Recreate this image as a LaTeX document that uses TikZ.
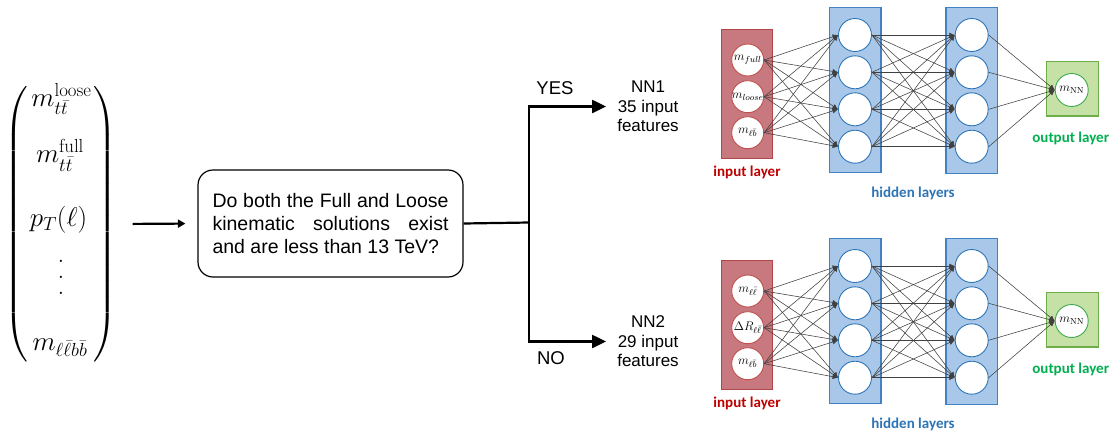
\documentclass[tikz,border=0pt]{standalone}
\usepackage{amsmath}
\usepackage{fontspec}
\newfontfamily\arialfont{Liberation Sans}
\newfontfamily\califont{Carlito}
\usetikzlibrary{arrows.meta}

% scalable math fonts for the large vector
\DeclareFontShape{OML}{cmm}{m}{it}{<-6>cmmi5<6-7>cmmi6<7-8>cmmi7<8-9>cmmi8<9-10>cmmi9<10-12>cmmi10<12->cmmi12}{}
\DeclareFontShape{OMS}{cmsy}{m}{n}{<-6>cmsy5<6-7>cmsy6<7-8>cmsy7<8-9>cmsy8<9-10>cmsy9<10->cmsy10}{}
\DeclareFontShape{OMX}{cmex}{m}{n}{<->cmex10}{}
\DeclareFontShape{OT1}{cmr}{m}{n}{<-6>cmr5<6-7>cmr6<7-8>cmr7<8-9>cmr8<9-10>cmr9<10-12>cmr10<12-17>cmr12<17->cmr17}{}

\definecolor{inFill}{HTML}{C8787F}
\definecolor{inEdge}{HTML}{B0464A}
\definecolor{inRing}{HTML}{C0504D}
\definecolor{hidFill}{HTML}{A9C8E9}
\definecolor{hidEdge}{HTML}{4282C4}
\definecolor{hidRing}{HTML}{2E75B6}
\definecolor{outFill}{HTML}{C6E1A5}
\definecolor{outEdge}{HTML}{6DAE49}
\definecolor{outRing}{HTML}{3BAA4E}
\definecolor{inText}{HTML}{C00000}
\definecolor{hidText}{HTML}{2E75B6}
\definecolor{outText}{HTML}{00B050}

\tikzset{
  vecentry/.style={inner sep=0, font=\fontsize{27}{32}\selectfont},
  paren/.style={inner sep=0, font=\fontsize{27}{32}\selectfont},
  flow/.style={line width=2.2pt, draw=black},
  qbox/.style={draw=black, line width=1.2pt, rounded corners=15pt, inner sep=0,
    font=\arialfont\fontsize{19.5}{23.3}\selectfont},
  flowtext/.style={inner sep=0, align=center, font=\arialfont\fontsize{17}{19.5}\selectfont},
  flowlab/.style={inner sep=0, font=\arialfont\fontsize{18.5}{22}\selectfont},
  layerbox/.style={line width=1.2pt, inner sep=0},
  neuron/.style={circle, fill=white, line width=0.9pt, inner sep=0, minimum size=33pt},
  inneuron/.style={neuron, draw=inRing, minimum size=32pt},
  hidneuron/.style={neuron, draw=hidRing},
  outneuron/.style={neuron, draw=outRing},
  nlabel/.style={label={[inner sep=0, font=\fontsize{12.5}{15}\selectfont]center:$#1$}},
  conn/.style={draw=black!75, line width=0.55pt, -{Latex[length=5.5pt,width=5pt]}},
  laylab/.style={inner sep=0, font=\califont\bfseries\fontsize{15}{18}\selectfont},
}

% One network: name prefix, vertical offset, three input labels
\newcommand\netdiagram[5]{%
\begin{scope}[shift={(0,#2)}]
  \node[layerbox, fill=inFill, draw=inEdge, minimum width=51pt, minimum height=129pt] (#1inbox) at (747.2,93.8) {};
  \node[layerbox, fill=hidFill, draw=hidEdge, minimum width=51.7pt, minimum height=165.4pt] (#1habox) at (855.2,90) {};
  \node[layerbox, fill=hidFill, draw=hidEdge, minimum width=51.7pt, minimum height=166pt] (#1hbbox) at (971.8,90.3) {};
  \node[layerbox, fill=outFill, draw=outEdge, minimum width=51.6pt, minimum height=54.3pt] (#1outbox) at (1072.5,88.8) {};
  \node[inneuron, nlabel={#3}] (#1in1) at (747.7,60) {};
  \node[inneuron, nlabel={#4}] (#1in2) at (747.7,96.7) {};
  \node[inneuron, nlabel={#5}] (#1in3) at (747.7,132.7) {};
  \foreach \j/\yy in {1/35,2/72.3,3/109.3,4/146.7} {
    \node[hidneuron] (#1ha\j) at (855,\yy) {};
    \node[hidneuron] (#1hb\j) at (971.7,\yy) {};
  }
  \node[outneuron, nlabel={m_{\mathrm{NN}}}] (#1out) at (1071.7,90) {};
  \foreach \i in {1,2,3} \foreach \j in {1,...,4} \draw[conn] (#1in\i.east) -- (#1ha\j.west);
  \foreach \i in {1,...,4} \foreach \j in {1,...,4} \draw[conn] (#1ha\i.east) -- (#1hb\j.west);
  \foreach \i in {1,...,4} \draw[conn] (#1hb\i.east) -- (#1out.west);
  \node[laylab, text=inText] (#1inlab) at (747,172) {input layer};
  \node[laylab, text=hidText] (#1hidlab) at (913,193) {hidden layers};
  \node[laylab, text=outText] (#1outlab) at (1070.7,138) {output layer};
\end{scope}}

\begin{document}
\begin{tikzpicture}[x=1pt, y=-1pt]
  \useasboundingbox[fill=white] (0,0) rectangle (1110,437);

  % input vector
  \node[paren] (lpar) at (16.5,224) {$\left(\vcenter{\hbox{\rule{0pt}{272pt}}}\right.$};
  \node[paren] (rpar) at (105,224) {$\left.\vcenter{\hbox{\rule{0pt}{272pt}}}\right)$};
  \node[vecentry, anchor=base] (v1) at (61.5,106) {$m_{t\bar t}^{\mathrm{loose}}$};
  \node[vecentry, anchor=base] (v2) at (60,162.7) {$m_{t\bar t}^{\mathrm{full}}$};
  \node[vecentry, anchor=base] (v3) at (58.5,226.7) {$p_T(\ell)$};
  \node[vecentry] (v4) at (61,277)
    {\vbox{\baselineskip=16pt\lineskiplimit=0pt\hbox{.}\hbox{.}\hbox{.}}};
  \node[vecentry, anchor=base] (v5) at (60,350) {$m_{\ell\bar\ell b\bar b}$};

  % decision
  \node[qbox, text width=236pt, minimum width=265pt, minimum height=107pt, align=justify] (q) at (330.5,223.5)
    {Do both the Full and Loose\linebreak kinematic solutions exist\linebreak and are less than 13 TeV?};
  \draw[flow, -{Triangle[length=7.5pt,width=8pt]}, shorten <=15pt, shorten >=12pt] (rpar.east) -- (q.west);

  \coordinate (split) at (529,222.5);
  \node[flowtext] (nn1) at (648,106.5) {NN1\\35 input\\features};
  \node[flowtext] (nn2) at (648,341.5) {NN2\\29 input\\features};
  \node[flowlab] (yes) at (555,88) {YES};
  \node[flowlab] (no) at (551,358) {NO};

  \draw[flow] (q.east) -- (split);
  \draw[flow, -{Triangle[length=14pt,width=13pt]}, shorten >=11pt] (split) |- (nn1.west);
  \draw[flow, -{Triangle[length=14pt,width=13pt]}, shorten >=11pt] (split) |- (nn2.west);

  % networks
  \netdiagram{a}{0}{m_{full}}{m_{loose}}{m_{\ell\bar b}}
  \netdiagram{b}{231}{m_{\ell\bar\ell}}{\Delta R_{\ell\bar\ell}}{m_{\ell\bar b}}
\end{tikzpicture}
\end{document}
